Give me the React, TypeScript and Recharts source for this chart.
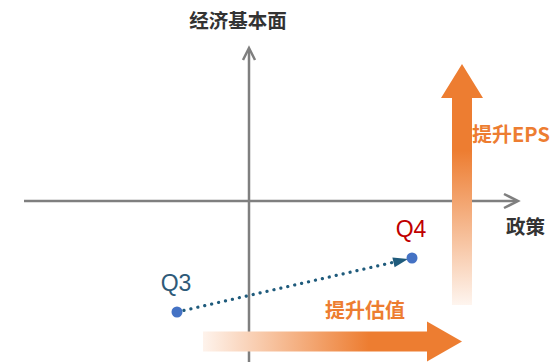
import { ScatterChart, Scatter, XAxis, YAxis, ReferenceLine } from "recharts";

// quarters plotted on policy (x) vs economic fundamentals (y)
const quarters = ["Q3", "Q4"];
const policyScore = [-7.2, 16.3];
const economyScore = [-11.1, -5.7];

const axisNames = { x: "政策", y: "经济基本面" };
const policyAxisRange = [-22.5, 26.9];
const economyAxisRange = [-16.1, 15.3];

const epsArrowLabel = "提升EPS";
const epsArrowX = 21.3;
const epsArrowRange = [-10.4, 13.7];

const valuationArrowLabel = "提升估值";
const valuationArrowY = -14.05;
const valuationArrowRange = [-4.6, 21.3];

const X_DOMAIN = [-24.9, 30.3];
const Y_DOMAIN = [-16.1, 20.1];

const AXIS_GRAY = "#7f7f7f";
const ORANGE = "#ed7d31";
const PATH_COLOR = "#1f5b7c";
const DOT_COLOR = "#4472c4";
const QUARTER_COLORS: Record<string, string> = { Q3: "#2e5a78", Q4: "#c00000" };
const CJK = "'Noto Sans CJK SC', 'Noto Sans', sans-serif";
const LATIN = "'Liberation Sans', Arial, sans-serif";

const data = quarters.map((q, i) => ({ name: q, x: policyScore[i], y: economyScore[i] }));

function HAxisShape(p: any) {
  const { x1, y1, x2 } = p;
  return (
    <g>
      <line x1={x1} y1={y1} x2={x2 - 1} y2={y1} stroke={AXIS_GRAY} strokeWidth={2.5} />
      <path
        d={`M${x2 - 14},${y1 - 7} L${x2},${y1} L${x2 - 14},${y1 + 7}`}
        fill="none"
        stroke={AXIS_GRAY}
        strokeWidth={2.5}
      />
      <text x={x2 - 12} y={y1 + 33} fontFamily={CJK} fontWeight={700} fontSize={19.5} fill="#333">
        {axisNames.x}
      </text>
    </g>
  );
}

function VAxisShape(p: any) {
  const { x1, y1, y2 } = p;
  const top = Math.min(y1, y2);
  const bottom = Math.max(y1, y2);
  return (
    <g>
      <line x1={x1} y1={bottom} x2={x1} y2={top + 1} stroke={AXIS_GRAY} strokeWidth={2.5} />
      <path
        d={`M${x1 - 6},${top + 12} L${x1},${top} L${x1 + 6},${top + 12}`}
        fill="none"
        stroke={AXIS_GRAY}
        strokeWidth={2.5}
      />
      <text
        x={x1 - 11}
        y={top - 20}
        textAnchor="middle"
        fontFamily={CJK}
        fontWeight={700}
        fontSize={19.5}
        fill="#333"
      >
        {axisNames.y}
      </text>
    </g>
  );
}

function EpsArrowShape(p: any) {
  const { x1, y1, y2 } = p;
  const top = Math.min(y1, y2);
  const bottom = Math.max(y1, y2);
  const half = 10;
  const head = 21;
  const headLen = 34;
  return (
    <g>
      <path
        d={`M${x1 - half},${bottom} L${x1 - half},${top + headLen} L${x1 - head},${top + headLen} L${x1},${top} L${x1 + head},${top + headLen} L${x1 + half},${top + headLen} L${x1 + half},${bottom} Z`}
        fill="url(#epsGrad)"
      />
      <text x={x1 + half} y={top + 78} fontFamily={CJK} fontWeight={700} fontSize={20} fill={ORANGE}>
        {epsArrowLabel}
      </text>
    </g>
  );
}

function ValuationArrowShape(p: any) {
  const { x1, x2, y1 } = p;
  const left = Math.min(x1, x2);
  const right = Math.max(x1, x2);
  const half = 10;
  const head = 20;
  const headLen = 35;
  return (
    <g>
      <path
        d={`M${left},${y1 - half} L${right - headLen},${y1 - half} L${right - headLen},${y1 - head} L${right},${y1} L${right - headLen},${y1 + head} L${right - headLen},${y1 + half} L${left},${y1 + half} Z`}
        fill="url(#valGrad)"
      />
      <text
        x={right - 97}
        y={y1 - 24}
        textAnchor="middle"
        fontFamily={CJK}
        fontWeight={700}
        fontSize={20}
        fill={ORANGE}
      >
        {valuationArrowLabel}
      </text>
    </g>
  );
}

function PathShape(p: any) {
  const { x1, y1, x2, y2 } = p;
  const dx = x2 - x1;
  const dy = y2 - y1;
  const len = Math.sqrt(dx * dx + dy * dy);
  const ux = dx / len;
  const uy = dy / len;
  const tipX = x2 - ux * 4;
  const tipY = y2 - uy * 4;
  const baseX = tipX - ux * 15;
  const baseY = tipY - uy * 15;
  const nx = -uy;
  const ny = ux;
  return (
    <g>
      <line
        x1={x1}
        y1={y1}
        x2={baseX}
        y2={baseY}
        stroke={PATH_COLOR}
        strokeWidth={3.2}
        strokeLinecap="round"
        strokeDasharray="0.1 7"
      />
      <path
        d={`M${tipX},${tipY} L${baseX + nx * 5},${baseY + ny * 5} L${baseX - nx * 5},${baseY - ny * 5} Z`}
        fill={PATH_COLOR}
      />
    </g>
  );
}

function QuarterDot(p: any) {
  const { cx, cy, payload } = p;
  return (
    <g>
      <circle cx={cx} cy={cy} r={5.5} fill={DOT_COLOR} />
      <text
        x={cx - 1}
        y={cy - 21}
        textAnchor="middle"
        fontFamily={LATIN}
        fontSize={23}
        fill={QUARTER_COLORS[payload.name]}
      >
        {payload.name}
      </text>
    </g>
  );
}

export default function App() {
  return (
    <div style={{ position: "absolute", left: 0, top: 0, background: "#fff" }}>
      <ScatterChart width={552} height={362} margin={{ top: 0, right: 0, bottom: 0, left: 0 }}>
        <defs>
          <linearGradient id="epsGrad" x1="0" y1="0" x2="0" y2="1">
            <stop offset="0" stopColor={ORANGE} />
            <stop offset="0.36" stopColor={ORANGE} />
            <stop offset="1" stopColor="#fef5ef" />
          </linearGradient>
          <linearGradient id="valGrad" x1="0" y1="0" x2="1" y2="0">
            <stop offset="0" stopColor="#fef3ec" />
            <stop offset="0.64" stopColor={ORANGE} />
            <stop offset="1" stopColor={ORANGE} />
          </linearGradient>
        </defs>
        <XAxis type="number" dataKey="x" domain={X_DOMAIN} hide allowDataOverflow />
        <YAxis type="number" dataKey="y" domain={Y_DOMAIN} hide allowDataOverflow />
        <ReferenceLine
          segment={[
            { x: policyAxisRange[0], y: 0 },
            { x: policyAxisRange[1], y: 0 },
          ]}
          shape={HAxisShape}
          ifOverflow="visible"
        />
        <ReferenceLine
          segment={[
            { x: 0, y: economyAxisRange[0] },
            { x: 0, y: economyAxisRange[1] },
          ]}
          shape={VAxisShape}
          ifOverflow="visible"
        />
        <ReferenceLine
          segment={[
            { x: epsArrowX, y: epsArrowRange[0] },
            { x: epsArrowX, y: epsArrowRange[1] },
          ]}
          shape={EpsArrowShape}
          ifOverflow="visible"
        />
        <ReferenceLine
          segment={[
            { x: valuationArrowRange[0], y: valuationArrowY },
            { x: valuationArrowRange[1], y: valuationArrowY },
          ]}
          shape={ValuationArrowShape}
          ifOverflow="visible"
        />
        <ReferenceLine
          segment={[
            { x: data[0].x, y: data[0].y },
            { x: data[1].x, y: data[1].y },
          ]}
          shape={PathShape}
          ifOverflow="visible"
        />
        <Scatter data={data} shape={QuarterDot} isAnimationActive={false} />
      </ScatterChart>
    </div>
  );
}
